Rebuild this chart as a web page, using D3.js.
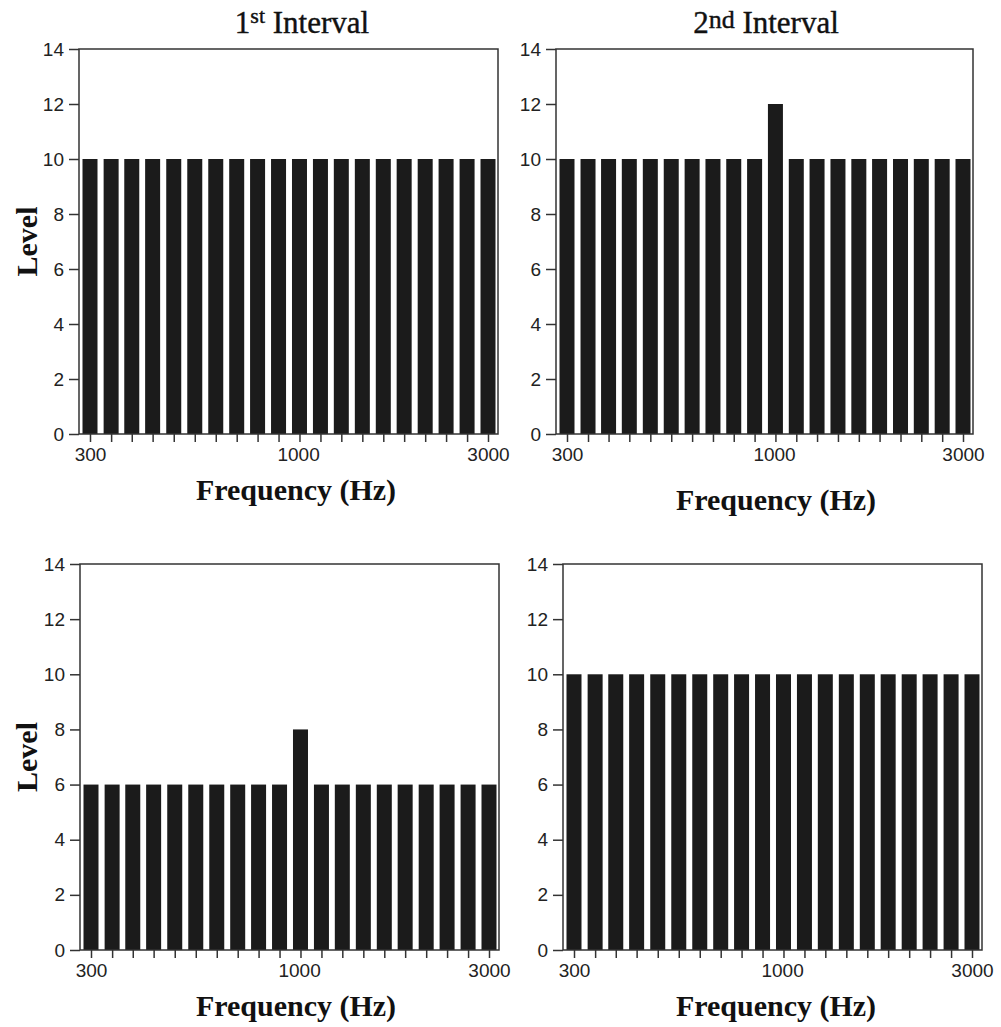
<!DOCTYPE html>
<html>
<head>
<meta charset="utf-8">
<script src="https://cdn.jsdelivr.net/npm/d3@7"></script>
<style>
  body { margin: 0; background: #fff; }
  svg { display: block; }
  .tick text { font-family: "Liberation Sans", Arial, sans-serif; font-size: 19px; fill: #222; }
  .lab { font-family: "Liberation Serif", "Times New Roman", serif; font-weight: bold; font-size: 30px; fill: #111; }
  .title { font-family: "Liberation Serif", "Times New Roman", serif; font-size: 31px; fill: #111; stroke: #111; stroke-width: 0.4px; }
</style>
</head>
<body>
<div id="chart"></div>
<script>
// component frequencies (Hz), 20 log-spaced tones 300-3000
var freqs = [300, 339, 382, 431, 487, 550, 621, 701, 791, 893,
             1008, 1138, 1284, 1450, 1637, 1847, 2086, 2354, 2658, 3000];
var freqLabels = [300, 1000, 3000];
var levelTicks = [0, 2, 4, 6, 8, 10, 12, 14];

// levels per panel
var levelsA = [10, 10, 10, 10, 10, 10, 10, 10, 10, 10, 10, 10, 10, 10, 10, 10, 10, 10, 10, 10];
var levelsB = [10, 10, 10, 10, 10, 10, 10, 10, 10, 10, 12, 10, 10, 10, 10, 10, 10, 10, 10, 10];
var levelsC = [6, 6, 6, 6, 6, 6, 6, 6, 6, 6, 8, 6, 6, 6, 6, 6, 6, 6, 6, 6];
var levelsD = [10, 10, 10, 10, 10, 10, 10, 10, 10, 10, 10, 10, 10, 10, 10, 10, 10, 10, 10, 10];

var titles = ["Interval", "Interval"];

var width = 1001, height = 1027;

var svg = d3.select("#chart").append("svg")
    .attr("width", width)
    .attr("height", height);

// panel frames
var panels = [
    {values: levelsA, l: 79,  r: 498, t: 49,  b: 434, xlab: 296, xlabY: 500, level: true},
    {values: levelsB, l: 556, r: 973, t: 49,  b: 434, xlab: 776, xlabY: 510, level: false},
    {values: levelsC, l: 80,  r: 499, t: 564, b: 950, xlab: 296, xlabY: 1016, level: true},
    {values: levelsD, l: 563, r: 982, t: 564, b: 950, xlab: 776, xlabY: 1016, level: false}
];

panels.forEach(function(p) {
    var g = svg.append("g");

    var x = d3.scaleLog()
        .domain([freqs[0], freqs[freqs.length - 1]])
        .range([p.l + 11, p.r - 10]);

    var y = d3.scaleLinear()
        .domain([0, 14])
        .range([p.b, p.t]);

    // bars
    g.append("g")
        .selectAll("rect")
        .data(p.values)
        .enter().append("rect")
        .attr("x", (d, i) => x(freqs[i]) - 7.5)
        .attr("width", 15)
        .attr("y", (d) => y(d))
        .attr("height", (d) => y(0) - y(d))
        .attr("fill", "#1b1b1b");

    // frame
    g.append("rect")
        .attr("x", p.l).attr("y", p.t)
        .attr("width", p.r - p.l).attr("height", p.b - p.t)
        .attr("fill", "none")
        .attr("stroke", "#333")
        .attr("stroke-width", 1.5);

    // y axis
    var yAxis = g.append("g")
        .attr("transform", "translate(" + p.l + ",0)")
        .call(d3.axisLeft(y).tickValues(levelTicks).tickSize(10).tickPadding(5).tickSizeOuter(0));
    yAxis.select(".domain").remove();
    yAxis.selectAll("line").attr("stroke", "#333").attr("stroke-width", 1.5);

    // x minor ticks at each component
    var xTicks = g.append("g")
        .attr("transform", "translate(0," + p.b + ")")
        .call(d3.axisBottom(x).tickValues(freqs).tickFormat("").tickSize(8).tickSizeOuter(0));
    xTicks.select(".domain").remove();
    xTicks.selectAll("line").attr("stroke", "#333").attr("stroke-width", 1.5);

    // x labels
    var xLab = g.append("g")
        .attr("transform", "translate(0," + p.b + ")")
        .call(d3.axisBottom(x).tickValues(freqLabels).tickFormat(d3.format("d")).tickSize(0).tickPadding(14));
    xLab.select(".domain").remove();

    g.append("text")
        .attr("class", "lab")
        .attr("x", p.xlab)
        .attr("y", p.xlabY)
        .attr("text-anchor", "middle")
        .text("Frequency (Hz)");

    if (p.level) {
        g.append("text")
            .attr("class", "lab")
            .attr("transform", "translate(37," + ((p.t + p.b) / 2) + ") rotate(-90)")
            .attr("text-anchor", "middle")
            .text("Level");
    }
});

// titles
var t1 = svg.append("text").attr("class", "title")
    .attr("x", 302).attr("y", 33).attr("text-anchor", "middle");
t1.append("tspan").text("1");
t1.append("tspan").attr("dy", -10).style("font-size", "22px").text("st");
t1.append("tspan").attr("dy", 10).text(" " + titles[0]);

var t2 = svg.append("text").attr("class", "title")
    .attr("x", 766).attr("y", 33).attr("text-anchor", "middle");
t2.append("tspan").text("2");
t2.append("tspan").attr("dy", -5).style("font-size", "26px").text("nd");
t2.append("tspan").attr("dy", 5).text(" " + titles[1]);
</script>
</body>
</html>
